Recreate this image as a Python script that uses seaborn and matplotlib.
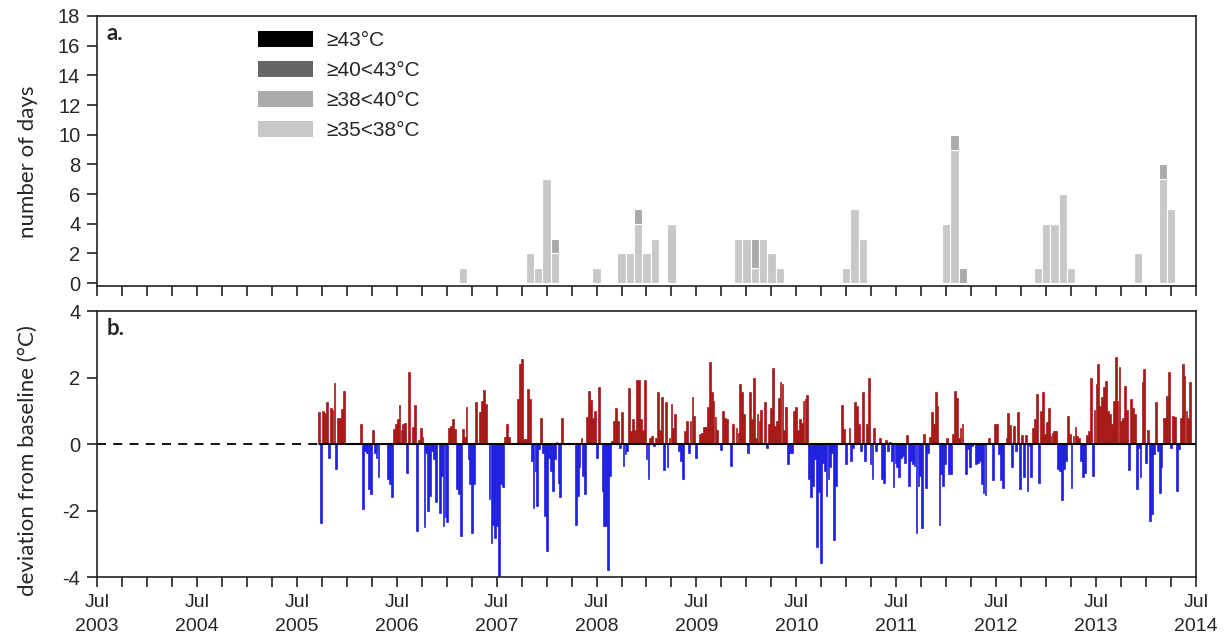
import numpy as np
import pandas as pd
import matplotlib.pyplot as plt
from matplotlib.patches import Patch
import seaborn as sns

# a. monthly number of hot days (month, days >=35<38 C, days >=38<40 C)
hot_month = ['2007-03', '2007-11', '2007-12', '2008-01', '2008-02', '2008-07',
             '2008-10', '2008-11', '2008-12', '2009-01', '2009-02', '2009-04',
             '2009-12', '2010-01', '2010-02', '2010-03', '2010-04', '2010-05',
             '2011-01', '2011-02', '2011-03', '2012-01', '2012-02', '2012-03',
             '2012-12', '2013-01', '2013-02', '2013-03', '2013-04', '2013-12',
             '2014-03', '2014-04']
days_35_38 = [1, 2, 1, 7, 2, 1, 2, 2, 4, 2, 3, 4, 3, 3, 1, 3, 2, 1,
              1, 5, 3, 4, 9, 0, 1, 4, 4, 6, 1, 2, 7, 5]
days_38_40 = [0, 0, 0, 0, 1, 0, 0, 0, 1, 0, 0, 0, 0, 0, 2, 0, 0, 0,
              0, 0, 0, 0, 1, 1, 0, 0, 0, 0, 0, 0, 1, 0]

legend_labels = ['≥43°C', '≥40<43°C', '≥38<40°C', '≥35<38°C']
legend_colors = ['#000000', '#666666', '#aaaaaa', '#c8c8c8']

# b. weekly deviation from baseline (deg C), week counted from 1 Jul 2003
dev_week = [
    116, 117, 118, 119, 120, 121, 122, 123, 124, 125, 126, 127, 128, 129, 138, 139,
    140, 141, 142, 143, 144, 145, 146, 147, 152, 153, 154, 155, 156, 157, 158, 159,
    160, 161, 162, 163, 165, 166, 167, 168, 169, 170, 171, 172, 173, 174, 175, 176,
    177, 179, 180, 181, 182, 183, 184, 185, 186, 187, 188, 189, 190,
    191, 192, 193, 194, 195, 196, 197, 198, 199, 200, 201, 202, 203, 205, 206, 207,
    208, 209, 210, 211, 212, 213, 214, 215, 220, 221, 222, 223, 224, 225, 226, 227,
    228, 229, 230, 231, 232, 233, 234, 235, 236, 237, 238, 239, 240, 241, 242, 243,
    250, 251, 252, 253, 254, 255, 256, 257, 258, 259, 260, 261, 262,
    264, 265, 266, 267, 268, 269, 270, 271, 272, 273, 274, 275, 276, 277, 278, 279,
    280, 281, 282, 283, 284, 285, 286, 287, 288, 289, 290, 291, 292, 293, 294, 295,
    296, 297, 298, 299, 300, 301, 302, 304, 305, 306, 307, 308, 309, 310, 311, 312,
    313, 315, 316, 317, 318, 319, 320, 321, 322, 323, 324, 326, 327, 328, 329, 331,
    332, 334, 335, 336, 337, 338, 340,
    341, 342, 343, 344, 345, 346, 347, 349, 350, 351, 352, 353, 354, 355, 356, 357,
    358, 359, 360, 361, 362, 363, 364, 365, 366, 367, 368, 369, 370, 371, 372, 373,
    374, 375, 376, 377, 378, 379, 380, 381, 382, 383, 384, 385, 386, 389, 390, 391,
    393, 394, 395, 396, 397, 398, 399, 400, 401, 402, 403, 404, 405, 406, 407, 409,
    410, 411, 412, 413, 414, 415, 416,
    417, 418, 419, 420, 421, 422, 423, 424, 425, 426, 427, 428, 429, 430, 431, 432,
    433, 434, 435, 436, 437, 438, 439, 440, 441, 442, 443, 444, 445, 446, 447, 448,
    449, 450, 451, 452, 454, 455, 456, 457, 459, 460, 461, 462, 463, 464, 466, 468,
    469, 470, 471, 472, 473, 475, 476, 477, 478, 479, 480, 481, 482, 483, 484, 485,
    486, 487, 488, 489, 490, 491, 492, 493, 494,
    495, 496, 497, 498, 499, 500, 501, 502, 503, 504, 505, 506, 507, 508, 509, 510,
    511, 512, 513, 514, 515, 516, 517, 518, 519, 520, 521, 522, 523, 524, 525, 526,
    527, 528, 529, 530, 531, 532, 533, 534, 535, 536, 537, 538, 539, 540, 541, 542,
    543, 544, 545, 546, 547, 548, 549, 550, 551, 552, 553, 554, 555, 556, 557, 558,
    559, 560, 561, 562, 563, 564, 565, 566, 567, 568, 569, 570, 571]
dev_value = [
    0.96, -2.37, 1.0, 0.95, 1.26, -0.4, 1.1, 1.03, 1.86, -0.76, 0.8, 0.8, 1.06, 1.6, 0.6, -1.96,
    -0.2, -0.25, -1.36, -1.5, 0.42, -0.25, -0.4, -1.0, -1.06, -1.2, -1.6, 0.45, 0.6, 0.75, 1.19, 0.42,
    0.6, 0.65, -0.86, 2.18, 0.52, 1.19, -2.62, 0.12, 0.48, 0.22, -2.5, -0.25, -2.0, -1.56, -0.2, -0.45,
    -1.73, -2.06, -0.96, -2.47, -2.2, -2.33, 0.5, 0.55, 0.75, 0.45, -1.36, -1.5, -2.77,
    0.45, 0.22, 1.13, -0.45, -1.2, -2.67, -1.2, 1.26, 0.05, 0.96, 1.31, 1.63, 1.2, -1.66, -2.97, -2.42,
    -2.82, -2.47, -4.0, -1.2, -1.3, 0.22, 0.62, 0.22, 1.36, 2.42, 2.57, 0.15, 0.15, 1.66, 1.36, -0.5,
    -1.91, -0.8, -1.86, -0.15, 0.8, -0.25, -2.17, -3.22, -0.4, -0.8, -1.41, -0.45, 0.07, -1.16, -1.59, 0.79,
    -2.44, -1.56, -0.7, 0.18, -0.96, -1.51, 0.83, 1.59, 1.33, 0.8, 1.0, -0.4, 1.73,
    -1.4, -2.45, -2.45, -3.78, -0.96, 0.1, 0.7, 1.1, 0.7, -0.1, 0.96, -0.65, -0.3, -0.2, 1.69, 0.4,
    0.75, 0.42, 1.93, 1.93, 0.75, 0.42, 1.93, -0.45, -1.06, 0.2, 0.25, -0.05, 0.2, 1.56, 0.42, 1.41,
    -0.78, 1.26, -0.7, 0.2, 1.2, 0.48, 0.9, -0.2, -0.5, -1.06, 0.4, 0.7, -0.25, 0.7, 1.41, 0.85,
    -0.4, 0.32, 0.35, 0.52, 0.52, 1.13, 2.47, 1.56, 1.31, 0.83, 0.42, -0.18, 0.99, 0.8, 0.75, -0.65,
    0.62, 0.48, 0.35, 1.81, 1.56, 0.9, -0.25,
    1.56, 0.75, 1.99, 0.2, 0.9, 0.7, 1.03, 1.26, -0.12, 0.6, 1.09, 2.3, 0.55, 0.7, 1.39, 1.88,
    1.81, 0.42, 1.13, -0.6, -0.25, -0.25, 0.99, 1.13, 0.42, 0.75, 0.65, 1.31, 1.36, 1.49, -1.05, -1.6,
    -1.25, -0.45, -3.1, -1.45, -3.58, -0.55, -0.8, -1.56, -1.05, -0.7, -0.25, -2.87, -1.26, 1.19, 0.45, -0.6,
    0.5, -0.5, -0.1, 1.26, 1.16, 0.6, -0.2, 1.56, -0.5, 0.6, 2.01, -0.6, -1.06, 0.48, -0.2, 0.18,
    -1.06, -1.16, 0.12, -0.2, 0.07, -0.5, -1.29,
    -0.55, -0.7, -1.0, -0.4, -0.35, -0.55, 0.28, -1.26, -0.5, -0.6, -0.65, -2.67, -1.26, -0.96, -2.52, 0.32,
    -1.31, -0.25, 0.22, 0.96, 0.62, 1.56, 1.16, -2.42, -0.9, -1.26, -0.6, 0.2, -0.9, -0.9, 0.3, 1.59,
    1.39, 0.2, 0.5, 0.6, -0.9, -0.15, -0.7, -0.05, -0.6, -0.55, -0.5, -1.2, -1.46, -1.53, 0.18, -1.09,
    0.6, 0.6, -0.3, -1.09, -1.31, 0.2, 0.93, 0.58, -0.7, 0.55, -0.2, 0.96, -1.36, 0.28, -1.0, 0.28,
    -1.41, -0.05, -1.0, 0.48, 0.75, 1.51, -1.16, 1.0, 1.56,
    0.3, 0.68, 1.1, 0.25, 0.35, 0.4, 0.4, -0.75, -0.8, -1.69, -0.75, -0.5, 0.86, 0.3, -1.31, 0.25,
    0.52, 0.25, 0.18, -0.5, -1.0, -0.86, 0.28, 0.4, 2.0, -0.96, 1.03, 1.81, 2.42, 1.16, 1.43, 1.73,
    1.91, 0.99, 0.9, 0.6, 1.31, 2.62, 1.29, 2.32, 0.7, 0.8, 1.76, 1.03, -0.78, 1.36, 1.1, 0.9,
    -1.36, -0.1, -1.0, 1.89, 2.27, -0.55, 0.42, -2.32, -2.11, -0.3, 1.26, -0.2, -1.46, -0.7, 0.8, 0.8,
    1.46, 2.17, -0.1, 0.86, 0.83, -1.41, -0.15, 0.8, 2.42, 2.06, 1.0, 0.8, 1.89]

year_ticks = list(range(2003, 2015))

sns.set_style('ticks')
plt.rcParams['font.family'] = ['Liberation Sans', 'DejaVu Sans']
plt.rcParams['axes.linewidth'] = 1.2
plt.rcParams['axes.edgecolor'] = '#222222'
plt.rcParams['axes.unicode_minus'] = False

# month -> decimal year (bar centred at the start of the month)
mdates = pd.to_datetime(hot_month)
hot_year = mdates.year + (mdates.month - 1) / 12
hot = pd.concat([
    pd.DataFrame({'year': hot_year, 'days': days_35_38, 'cls': legend_labels[3]}),
    pd.DataFrame({'year': hot_year, 'days': days_38_40, 'cls': legend_labels[2]}),
])
hot = hot[hot['days'] > 0]

dev = pd.DataFrame({'year': 2003.5 + np.array(dev_week) * 7 / 365.25, 'dev': dev_value})
dev['sign'] = np.where(dev['dev'] >= 0, 'warm', 'cool')

fig = plt.figure(figsize=(12.25, 6.42), dpi=100)
ax1 = fig.add_axes([0.0792, 0.5545, 0.8971, 0.4206])
ax2 = fig.add_axes([0.0792, 0.1012, 0.8971, 0.4136])

x0, x1 = year_ticks[0] + 0.5, year_ticks[-1] + 0.5
label_font = ['Lato', 'DejaVu Sans']

# panel a: stacked monthly bars
sns.histplot(data=hot, x='year', weights='days', hue='cls',
             hue_order=[legend_labels[2], legend_labels[3]],
             palette={legend_labels[2]: legend_colors[2], legend_labels[3]: legend_colors[3]},
             multiple='stack', binwidth=1 / 12, binrange=(x0 - 1 / 24, x1 - 1 / 24),
             alpha=1, edgecolor='white', linewidth=0.8, legend=False, ax=ax1)
ax1.set_ylim(-0.2, 18)
ax1.set_yticks(range(0, 19, 2))
ax1.set_ylabel('number of days', family=label_font, fontsize=16)
ax1.yaxis.set_label_coords(-0.054, 0.46)
ax1.text(0.009, 0.975, 'a.', transform=ax1.transAxes, ha='left', va='top',
         fontsize=16, fontweight='bold', family=label_font)
handles = [Patch(facecolor=c, edgecolor='none', label=l) for l, c in zip(legend_labels, legend_colors)]
ax1.legend(handles=handles, loc='upper left', bbox_to_anchor=(0.1465, 0.945), frameon=False,
           fontsize=15, handlelength=2.65, handleheight=0.85, handletextpad=0.65,
           labelspacing=0.5, borderpad=0, borderaxespad=0)

# panel b: weekly deviations
sns.barplot(data=dev, x='year', y='dev', hue='sign',
            palette={'warm': '#c00000', 'cool': '#0000ff'}, native_scale=True,
            dodge=False, errorbar=None, width=0.95, linewidth=0, legend=False, ax=ax2)
for bar in ax2.patches:
    bar.set_edgecolor(bar.get_facecolor())
    bar.set_linewidth(0.5)
start = dev['year'].min()
ax2.hlines(0, x0, start, colors='black', linestyles=(0, (5, 4)), linewidth=1.3)
ax2.hlines(0, start, x1, colors='black', linewidth=1.5)
ax2.set_ylim(-4, 4)
ax2.set_yticks([-4, -2, 0, 2, 4])
ax2.set_ylabel('deviation from baseline (°C)', family=label_font, fontsize=16)
ax2.yaxis.set_label_coords(-0.054, 0.44)
ax2.text(0.009, 0.975, 'b.', transform=ax2.transAxes, ha='left', va='top',
         fontsize=16, fontweight='bold', family=label_font)

for ax in (ax1, ax2):
    ax.set_xlim(x0, x1)
    ax.set_xticks([y + 0.5 for y in year_ticks])
    ax.set_xticks(np.arange(x0, x1 + 0.01, 0.25), minor=True)
    ax.set_xlabel('')
    ax.tick_params(axis='both', which='both', direction='out', length=7, width=1.2, color='#222222')
    ax.tick_params(axis='y', labelsize=14.5, pad=5)
    for s in ax.spines.values():
        s.set_visible(True)

ax1.tick_params(axis='x', labelbottom=False)
ax2.set_xticklabels([f'Jul\n{y}' for y in year_ticks], family=['Liberation Sans Narrow', 'Liberation Sans'],
                    fontsize=14, linespacing=1.6)
ax2.tick_params(axis='x', pad=5)

fig.savefig('out.png', dpi=100)
